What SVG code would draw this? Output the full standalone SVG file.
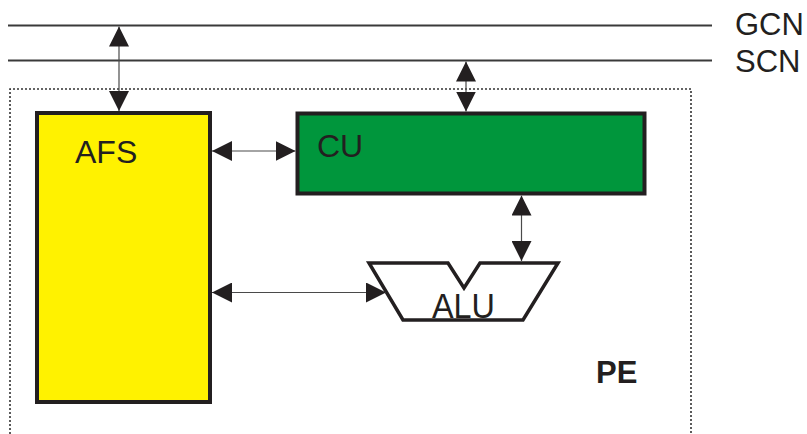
<svg xmlns="http://www.w3.org/2000/svg" width="807" height="434" viewBox="0 0 807 434">
<defs>
<style>
.bus{stroke:#3a3a3a;stroke-width:2.2;fill:none}
.lbl{font-family:"Liberation Sans",Arial,sans-serif;fill:#231f20}
.box{stroke:#231f20;stroke-width:4}
.conn{stroke:#4a4a4a;stroke-width:1.2;fill:none;marker-start:url(#ah);marker-end:url(#ah)}
</style>
<marker id="ah" viewBox="0 0 20 20" refX="20" refY="10" markerWidth="20" markerHeight="20" markerUnits="userSpaceOnUse" orient="auto-start-reverse">
<path d="M0,0 L20,10 L0,20 Z" fill="#231f20"/>
</marker>
</defs>
<rect x="0" y="0" width="807" height="434" fill="#fff"/>
<g id="buses">
<line class="bus" x1="8" y1="25.5" x2="712" y2="25.5"/>
<line class="bus" x1="8" y1="60.5" x2="712" y2="60.5"/>
<text class="lbl" x="735" y="35" font-size="31">GCN</text>
<text class="lbl" x="735" y="72" font-size="31">SCN</text>
</g>
<g id="PE">
<path d="M10,434 V89 H691 V434" fill="none" stroke="#333" stroke-width="1.6" stroke-dasharray="2,2"/>
<text class="lbl" x="596" y="383" font-size="31" font-weight="bold">PE</text>
</g>
<g id="AFS">
<rect class="box" x="37" y="113" width="173" height="289" fill="#fff200"/>
<text class="lbl" x="75" y="163" font-size="32">AFS</text>
</g>
<g id="CU">
<rect class="box" x="297.5" y="113.5" width="347" height="80" fill="#00963c"/>
<text class="lbl" x="317" y="157" font-size="32">CU</text>
</g>
<g id="ALU">
<path d="M369,263 H448 L464,288 L480,263 H558 L523,320 H403 Z" fill="#fff" stroke="#231f20" stroke-width="3.5" stroke-linejoin="miter"/>
<text class="lbl" x="432" y="318" font-size="35" textLength="63" lengthAdjust="spacingAndGlyphs">ALU</text>
</g>
<g id="connectors">
<line class="conn" x1="119" y1="26.5" x2="119" y2="111"/>
<line class="conn" x1="466" y1="61.5" x2="466" y2="111.5"/>
<line class="conn" x1="212" y1="151" x2="295.5" y2="151"/>
<line class="conn" x1="521.5" y1="195.5" x2="521.5" y2="261"/>
<line class="conn" x1="212" y1="292.5" x2="386" y2="292.5"/>
</g>
</svg>
